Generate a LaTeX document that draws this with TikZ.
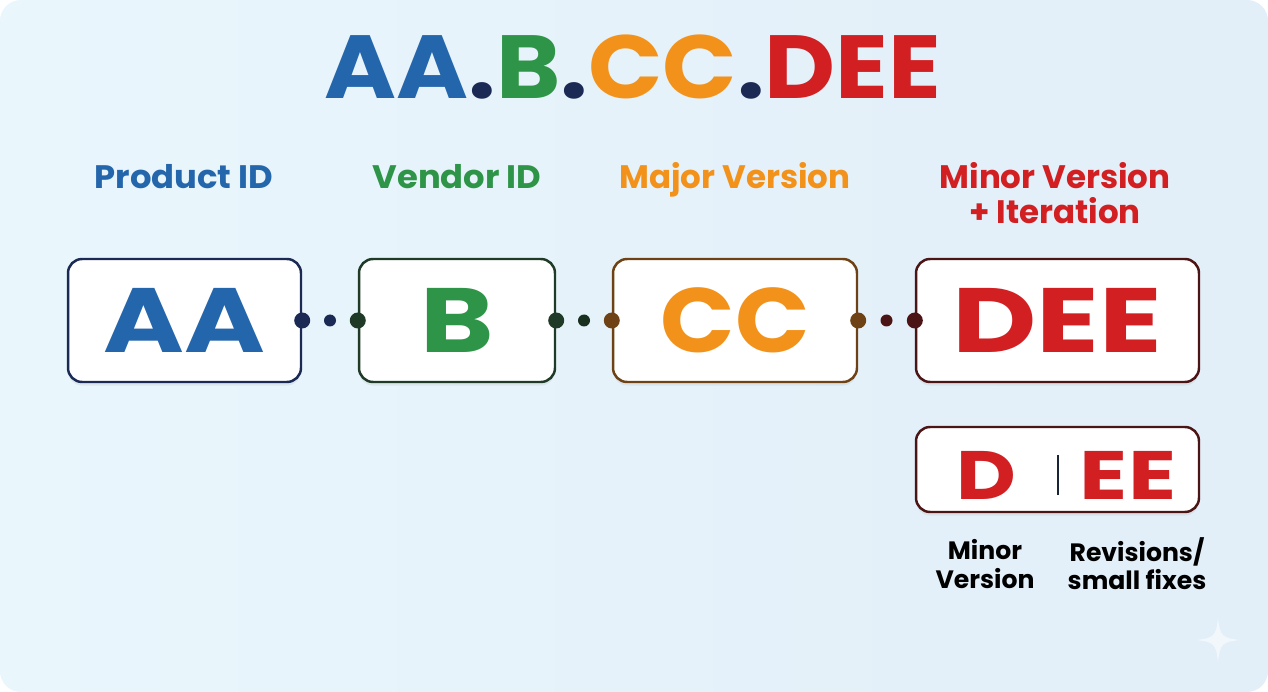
\documentclass[tikz,border=0pt]{standalone}
\usepackage{fontspec}
\setmainfont{Poppins}
\usetikzlibrary{shadows,calc}
\definecolor{bgA}{HTML}{E9F6FC}
\definecolor{bgB}{HTML}{E2EEF8}
\definecolor{cblue}{HTML}{2466AC}
\definecolor{cgreen}{HTML}{2E9447}
\definecolor{corange}{HTML}{F3921A}
\definecolor{cred}{HTML}{D11F22}
\definecolor{cnavy}{HTML}{1B2A55}
\definecolor{bgreen}{HTML}{1F3B27}
\definecolor{borange}{HTML}{6E4214}
\definecolor{bred}{HTML}{4C1515}
\definecolor{cdot}{HTML}{1A2438}
\newcommand{\stretchto}[1]{\addfontfeature{FakeStretch=#1}}
\tikzset{
  box/.style={draw, line width=1.4pt, fill=white, rounded corners=8pt,
    inner sep=0pt, font=\bfseries\fontsize{52}{56}\selectfont,
    drop shadow={opacity=0.12, shadow xshift=0pt, shadow yshift=-2pt}},
  lbl/.style={font=\bfseries\fontsize{18.5}{20}\selectfont, align=center, inner sep=0pt, anchor=base},
  sublbl/.style={font=\bfseries\fontsize{14.3}{16}\selectfont, align=center, inner sep=0pt, text=black},
  edot/.style={circle, inner sep=0pt, minimum size=0.32cm},
  mdot/.style={circle, inner sep=0pt, minimum size=0.24cm, fill=cdot},
  subtxt/.style={font=\bfseries\fontsize{39}{42}\selectfont, text=cred, inner sep=0pt},
}
\begin{document}
\begin{tikzpicture}[x=0.02cm,y=-0.02cm]
\useasboundingbox (0,0) rectangle (1268,692);
\fill[white] (0,0) rectangle (1268,692);
\shade[left color=bgA, right color=bgB, rounded corners=12pt] (0,0) rectangle (1268,692);
% sparkle
\fill[white, opacity=0.55] (1218,618) .. controls (1220,636) and (1222,638) .. (1240,640)
  .. controls (1222,642) and (1220,644) .. (1218,662)
  .. controls (1216,644) and (1214,642) .. (1196,640)
  .. controls (1214,638) and (1216,636) .. (1218,618) -- cycle;
% title
\node[font=\bfseries\fontsize{51}{56}\selectfont, inner sep=0pt] (title) at (633,67)
  {\stretchto{1.09}\textcolor{cblue}{AA}\textcolor{cnavy}{.}\textcolor{cgreen}{B}\textcolor{cnavy}{.}\textcolor{corange}{CC}\textcolor{cnavy}{.}\textcolor{cred}{DEE}};
% labels
\node[lbl, text=cblue] (l1) at (184,189) {\stretchto{1.04}Product ID};
\node[lbl, text=cgreen] (l2) at (457,189) {\stretchto{1.04}Vendor ID};
\node[lbl, text=corange] (l3) at (735,189) {Major Version};
\node[lbl, text=cred] (l4) at (1055,224) {Minor Version\\+ Iteration};
% boxes
\node[box, draw=cnavy, text=cblue, minimum width=4.66cm, minimum height=2.46cm] (aa) at (184.5,320.5) {\stretchto{1.2}AA};
\node[box, draw=bgreen, text=cgreen, minimum width=3.92cm, minimum height=2.46cm] (b) at (457,320.5) {\stretchto{1.22}B};
\node[box, draw=borange, text=corange, minimum width=4.88cm, minimum height=2.46cm] (cc) at (735,320.5) {\stretchto{1.07}CC};
\node[box, draw=bred, text=cred, minimum width=5.66cm, minimum height=2.46cm] (dee) at (1057.5,320.5) {\stretchto{1.27}DEE};
% dots
\node[edot, fill=cnavy] (d1a) at (aa.east) {};
\node[edot, fill=bgreen] (d1b) at (b.west) {};
\node[mdot, fill=cnavy] (m1) at ($(d1a)!0.5!(d1b)$) {};
\node[edot, fill=bgreen] (d2a) at (b.east) {};
\node[edot, fill=borange] (d2b) at (cc.west) {};
\node[mdot, fill=bgreen!80!black] (m2) at ($(d2a)!0.5!(d2b)$) {};
\node[edot, fill=borange] (d3a) at (cc.east) {};
\node[edot, fill=bred] (d3b) at (dee.west) {};
\node[mdot, fill=bred] (m3) at ($(d3a)!0.5!(d3b)$) {};
% split box
\node[box, draw=bred, minimum width=5.66cm, minimum height=1.70cm] (split) at (1057.5,469.5) {};
\node[subtxt] (dd) at (986,475) {\stretchto{1.2}D};
\node[subtxt] (ee) at (1128,475) {\stretchto{1.3}EE};
\coordinate (sepT) at (1058,455);
\coordinate (sepB) at (1058,495);
\draw[line width=1.2pt, cdot] (sepT) -- (sepB);
% sublabels
\node[sublbl] (s1) at (985,564) {Minor\\Version};
\node[sublbl] (s2) at (1137,564) {Revisions/\\small fixes};
\end{tikzpicture}
\end{document}
